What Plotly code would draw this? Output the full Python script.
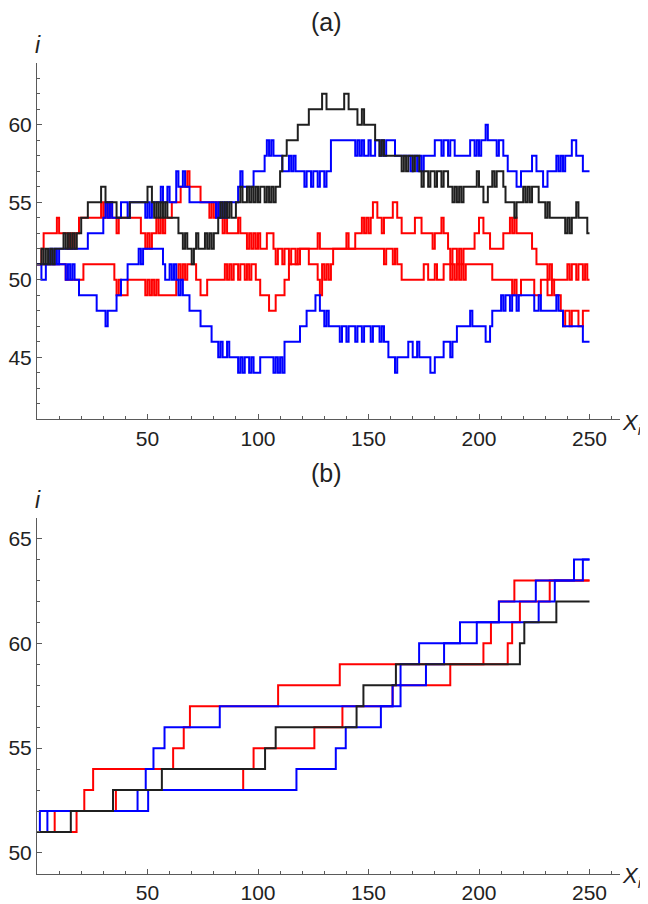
import plotly.graph_objects as go

# ---------------- Panel (a): step series as (x, value) change points ----------------
BLACK_A = [(0,51),(2,52),(3,51),(4,52),(5,51),(6,52),(7,51),(8,52),(12,53),(13,52),(14,53),(15,52),(16,53),(17,52),(18,53),
           (20,54),(23,55),(29,56),(31,55),(36,54),(42,55),(50,56),(52,55),(53,54),(54,55),(55,54),(56,55),(57,54),(58,55),(59,54),
           (64,53),(66,52),(67,53),(68,52),(70,51),(71,52),(72,53),(73,52),(76,53),(77,52),(78,53),(79,52),(80,53),(82,54),(83,55),
           (84,54),(85,55),(86,54),(87,55),(88,54),(90,55),(92,56),(93,55),(95,56),(96,55),(97,56),(98,55),(99,56),(100,55),(101,56),
           (103,55),(104,56),(105,55),(106,56),(107,55),(108,56),(110,57),(111,58),(113,59),(118,60),(123,61),(129,62),(131,61),
           (139,62),(141,61),(145,60),(147,61),(148,60),(153,59),(155,58),(156,59),(157,58),(165,57),(166,58),(167,57),(168,58),
           (170,57),(171,58),(173,57),(174,56),(175,57),(177,56),(178,57),(180,56),(181,57),(183,56),(184,57),(186,56),(188,55),
           (189,56),(190,55),(191,56),(192,55),(193,56),(199,57),(200,56),(202,55),(204,56),(206,57),(207,56),(208,57),(211,56),
           (212,55),(216,54),(217,55),(220,56),(221,55),(222,56),(223,55),(224,56),(227,55),(230,54),(231,55),(232,54),(239,53),
           (240,54),(241,53),(242,54),(244,55),(245,54),(249,53),(250,53)]

BLUE_A1 = [(0,51),(2,50),(4,51),(13,50),(14,51),(15,50),(16,51),(17,50),(19,49),(27,48),(31,47),(32,48),(36,49),(38,50),(41,51),
           (46,52),(47,51),(48,52),(57,51),(58,50),(60,51),(61,50),(62,51),(63,50),(64,49),(65,50),(66,49),(69,48),(74,47),(79,46),
           (82,45),(83,46),(84,45),(86,46),(87,45),(91,44),(92,45),(93,44),(94,45),(96,44),(97,45),(98,44),(101,45),(107,44),(108,45),
           (109,44),(110,45),(111,44),(112,46),(119,47),(122,48),(126,49),(128,48),(130,47),(131,48),(132,47),(137,46),(138,47),
           (140,46),(141,47),(144,46),(145,47),(147,46),(148,47),(151,46),(152,47),(155,46),(156,47),(157,46),(159,45),(162,44),
           (163,45),(168,46),(170,45),(172,46),(173,45),(178,44),(180,45),(184,46),(187,45),(188,46),(190,47),(196,48),(197,47),
           (203,46),(205,47),(206,48),(210,49),(211,48),(212,49),(214,48),(215,49),(217,48),(218,49),(225,48),(227,49),(228,48),
           (235,49),(236,48),(238,47),(247,46),(250,46)]

BLUE_A2 = [(0,51),(6,52),(7,51),(8,52),(9,51),(10,52),(23,53),(30,54),(31,55),(32,54),(33,55),(34,54),(38,55),(41,54),(42,55),
           (49,54),(50,55),(51,54),(52,55),(56,56),(57,55),(59,56),(60,55),(63,57),(64,56),(66,57),(67,56),(69,55),(81,54),(82,55),
           (83,54),(84,55),(85,54),(86,55),(91,56),(92,57),(93,56),(98,57),(103,58),(104,59),(105,58),(106,59),(107,58),(111,57),
           (114,58),(115,57),(116,58),(117,57),(121,56),(122,57),(124,56),(125,57),(127,56),(128,57),(130,56),(131,57),(133,59),
           (144,58),(145,59),(146,58),(147,59),(148,58),(150,59),(151,58),(153,59),(155,58),(156,59),(157,58),(158,59),(162,58),
           (169,57),(170,58),(172,57),(173,58),(174,57),(175,58),(180,59),(183,58),(184,59),(186,58),(187,59),(189,58),(196,59),
           (198,58),(199,59),(200,58),(201,59),(203,60),(204,59),(208,58),(209,59),(211,58),(213,57),(217,56),(219,57),(224,58),
           (226,57),(229,56),(231,57),(235,58),(236,57),(237,58),(238,57),(239,58),(242,59),(244,58),(247,57),(250,57)]

RED_A1 = [(0,51),(2,52),(3,53),(9,54),(10,53),(14,52),(15,53),(16,52),(17,53),(19,54),(29,55),(30,54),(31,55),(32,54),(33,55),
          (34,54),(36,53),(37,54),(47,53),(49,52),(50,53),(51,52),(52,53),(54,54),(55,53),(56,54),(57,53),(58,54),(61,55),(65,56),
          (68,57),(69,56),(74,55),(78,54),(79,55),(80,54),(81,55),(82,54),(84,53),(85,54),(86,53),(91,54),(92,53),(95,52),(96,53),
          (97,52),(98,53),(99,52),(100,53),(101,52),(104,53),(107,52),(108,51),(109,52),(111,51),(112,52),(114,51),(115,52),
          (117,51),(118,52),(123,51),(127,50),(128,49),(129,51),(130,50),(131,51),(132,50),(133,51),(134,52),(144,53),(147,54),
          (148,53),(149,54),(150,53),(151,54),(152,55),(154,54),(156,53),(157,54),(161,55),(163,54),(165,53),(171,54),(174,53),
          (179,52),(180,53),(183,54),(184,53),(186,52),(187,51),(188,52),(190,51),(191,52),(192,51),(193,52),(198,53),(200,54),
          (202,53),(205,52),(211,53),(214,54),(215,53),(216,54),(217,53),(224,52),(226,51),(231,50),(232,51),(233,50),(240,51),
          (241,50),(242,51),(244,50),(245,51),(247,50),(248,51),(249,50),(250,50)]

RED_A2 = [(0,51),(13,50),(21,51),(35,50),(36,49),(37,50),(38,49),(41,50),(49,49),(50,50),(51,49),(52,50),(53,49),(54,50),(55,49),
          (63,50),(64,51),(65,50),(66,51),(67,50),(68,51),(72,50),(74,49),(77,50),(85,51),(86,50),(87,51),(88,50),(89,51),(91,50),
          (92,51),(94,50),(95,51),(96,50),(97,51),(99,50),(101,49),(105,48),(108,49),(112,50),(114,51),(119,52),(127,53),(128,52),
          (140,53),(141,52),(156,52),(157,51),(158,52),(161,51),(162,52),(163,51),(165,50),(175,51),(177,50),(180,51),(181,50),
          (184,51),(187,50),(188,51),(189,50),(190,51),(191,50),(192,51),(193,50),(194,51),(206,50),(215,49),(216,50),(217,49),
          (219,50),(225,49),(228,50),(231,49),(233,50),(234,49),(237,48),(238,47),(239,48),(241,47),(242,48),(245,47),(247,48),
          (250,48)]

# ---------------- Panel (b) ----------------
BLACK_B = [(0,51),(15.3,52),(34.4,53),(56.5,54),(103.2,55),(108,56),(144.6,57),(147.7,58),(162.4,59),(218.5,60),(220.5,61),
           (235,62),(250,62)]
RED_B1 = [(0,51),(8,52),(21.4,53),(25.4,54),(61.6,55),(66.4,56),(69.2,57),(109.1,58),(137,59),(202,60),(205.4,61),(209,62),
          (216,63),(250,63)]
RED_B2 = [(0,51),(17.9,52),(35.7,53),(93.3,54),(98,55),(125.5,56),(138.2,57),(160.9,58),(187,59),(213,60),(215,61),(218.5,62),
          (232,63),(250,63)]
BLUE_B1 = [(0,51),(1.3,52),(45.5,53),(49.2,54),(52.7,55),(57.7,56),(82.7,57),(164.5,58),(176,59),(184.2,60),(199,61),(227,62),
           (234.3,63),(247,64),(250,64)]
BLUE_B2 = [(0,51),(4.7,52),(50.3,53),(117.4,54),(135.2,55),(139.7,56),(155.6,57),(160.9,58),(164.5,59),(172.9,60),(191.4,61),
           (209,62),(225.7,63),(243,64),(250,64)]

X_TICKS = [50, 100, 150, 200, 250]
Y_TICKS_A = [45, 50, 55, 60]
Y_TICKS_B = [50, 55, 60, 65]

BLACK = "#1f1f1f"
BLUE = "#0000ff"
RED = "#ff0000"

# The page body has an 8 px margin; the figure is sized so it ends exactly at the window edge.
OFF = 8
W, H = 648 - OFF, 904 - OFF
ML = 36 - OFF
MR = W - (620 - OFF)

fig = go.Figure()

def add(series, color, xa, ya):
    xs = [p[0] for p in series]
    ys = [p[1] for p in series]
    fig.add_trace(go.Scatter(x=xs, y=ys, mode="lines", line=dict(color=color, width=2, shape="hv"),
                             xaxis=xa, yaxis=ya, showlegend=False, hoverinfo="skip"))

for s, c in [(RED_A1, RED), (RED_A2, RED), (BLUE_A1, BLUE), (BLUE_A2, BLUE), (BLACK_A, BLACK)]:
    add(s, c, "x", "y")
for s, c in [(RED_B1, RED), (RED_B2, RED), (BLUE_B1, BLUE), (BLUE_B2, BLUE), (BLACK_B, BLACK)]:
    add(s, c, "x2", "y2")

def py2paper(py):
    return 1 - (py - OFF) / H

def px2paper(px):
    return (px - OFF - ML) / (W - ML - MR)

axis_col = "#5a5a5a"
font = dict(family="Liberation Sans, Arial, sans-serif", size=21, color="#222222")

xcommon = dict(range=[0, 263.8], showgrid=False, zeroline=False, showline=True, linecolor=axis_col, linewidth=1,
               ticks="inside", ticklen=5, tickcolor=axis_col, tickwidth=1, tickmode="array",
               tickvals=X_TICKS, ticktext=[str(v) for v in X_TICKS], tickfont=font, ticklabeloverflow="allow",
               minor=dict(tickmode="array", tickvals=[v for v in range(10, 264, 10) if v % 50],
                          ticks="inside", ticklen=3, tickcolor=axis_col, tickwidth=1))

fig.update_layout(
    width=W, height=H, paper_bgcolor="white", plot_bgcolor="white",
    margin=dict(l=ML, r=MR, t=0, b=0),
    xaxis=dict(domain=[0, 1], anchor="y", **xcommon),
    xaxis2=dict(domain=[0, 1], anchor="y2", **xcommon),
    yaxis=dict(domain=[py2paper(423.5), py2paper(63.3)], anchor="x", range=[41, 64], showgrid=False, zeroline=False,
               showline=True, linecolor=axis_col, linewidth=1, ticks="inside", ticklen=5, tickcolor=axis_col,
               tickmode="array", tickvals=Y_TICKS_A, ticktext=[str(v) for v in Y_TICKS_A], tickfont=font,
               minor=dict(tickmode="array", tickvals=[v for v in range(42, 65) if v % 5],
                          ticks="inside", ticklen=3, tickcolor=axis_col)),
    yaxis2=dict(domain=[py2paper(882.7), py2paper(522.7)], anchor="x2", range=[49, 66], showgrid=False, zeroline=False,
                showline=True, linecolor=axis_col, linewidth=1, ticks="inside", ticklen=5, tickcolor=axis_col,
                tickmode="array", tickvals=Y_TICKS_B, ticktext=[str(v) for v in Y_TICKS_B], tickfont=font,
                minor=dict(tickmode="array", tickvals=[v for v in range(50, 67) if v % 5],
                           ticks="inside", ticklen=3, tickcolor=axis_col)),
)

ann_font = dict(family="Liberation Sans, Arial, sans-serif", color="#222222")
anns = [
    dict(text="(a)", x=px2paper(326), y=py2paper(22), size=25, xa="center"),
    dict(text="(b)", x=px2paper(326), y=py2paper(478), size=25, xa="center"),
    dict(text="<i>i</i>", x=px2paper(37), y=py2paper(45), size=23, xa="center"),
    dict(text="<i>i</i>", x=px2paper(37), y=py2paper(505), size=23, xa="center"),
    dict(text="<i>X<sub>i</sub></i>", x=px2paper(644), y=py2paper(428), size=22, xa="right"),
    dict(text="<i>X<sub>i</sub></i>", x=px2paper(644), y=py2paper(886), size=22, xa="right"),
]
for a in anns:
    fig.add_annotation(text=a["text"], x=a["x"], y=a["y"], xref="paper", yref="paper", showarrow=False,
                       xanchor=a["xa"], yanchor="middle", font=dict(size=a["size"], **ann_font))

fig.write_html("out.html")
